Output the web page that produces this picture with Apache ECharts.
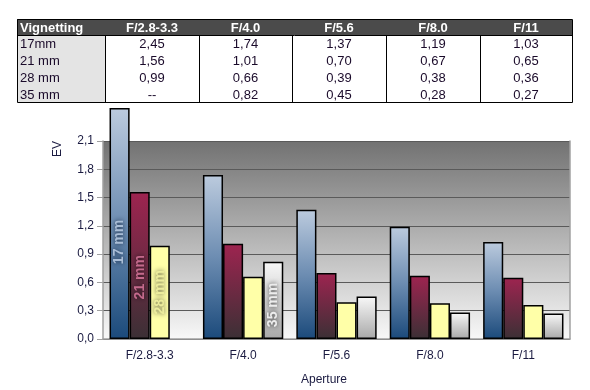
<!DOCTYPE html>
<html><head><meta charset="utf-8">
<script src="https://cdn.jsdelivr.net/npm/echarts@6/dist/echarts.min.js"></script>
<style>html,body{margin:0;padding:0;background:#fff}#c{width:590px;height:390px}</style>
</head><body><div id="c"></div>
<script>
var categories = ['F/2.8-3.3', 'F/4.0', 'F/5.6', 'F/8.0', 'F/11'];
var seriesNames = ['17mm', '21 mm', '28 mm', '35 mm'];
var labelNames = ['17 mm', '21 mm', '28 mm', '35 mm'];
var v17 = [2.45, 1.74, 1.37, 1.19, 1.03];
var v21 = [1.56, 1.01, 0.70, 0.67, 0.65];
var v28 = [0.99, 0.66, 0.39, 0.38, 0.36];
var v35 = [null, 0.82, 0.45, 0.28, 0.27];
var yTicks = [0, 0.3, 0.6, 0.9, 1.2, 1.5, 1.8, 2.1];
var tableTitle = 'Vignetting';

var FONT = '"Liberation Sans", Arial, sans-serif';
var all = [v17, v21, v28, v35];
var labelIdx = [0, 0, 0, 1];
var labelPos = [['50%', '58%'], ['50%', '58%'], ['50%', '50%'], ['50%', '56%']];
var labelColor = ['#a9bdd6', '#c46a8c', '#ecec9c', '#ececec'];
var shadowColor = ['#10203a', '#1e0c16', '#4a4a30', '#333333'];
var fills = [
  {type:'linear',x:0,y:0,x2:0,y2:1,colorStops:[{offset:0,color:'#bccbde'},{offset:0.5,color:'#6d8db2'},{offset:1,color:'#1b4a7b'}]},
  {type:'linear',x:0,y:0,x2:0,y2:1,colorStops:[{offset:0,color:'#9e2450'},{offset:1,color:'#3b3035'}]},
  '#ffffa8',
  {type:'linear',x:0,y:0,x2:0,y2:1,colorStops:[{offset:0,color:'#f8f8f8'},{offset:1,color:'#a8a8a8'}]}
];
function fmt(v){ return v == null ? '--' : v.toFixed(2).replace('.', ','); }

var series = all.map(function(vals, s){
  return {
    name: seriesNames[s], type: 'bar', clip: false, barGap: '0%', barCategoryGap: '14%',
    itemStyle: {color: fills[s], borderColor: '#000', borderWidth: 1.5},
    emphasis: {disabled: true},
    data: vals.map(function(v, i){
      if (v == null) return '-';
      if (i === labelIdx[s]) return {value: v, label: {show: true, position: labelPos[s], rotate: 90,
        align: 'center', verticalAlign: 'middle', formatter: labelNames[s],
        color: labelColor[s], fontFamily: FONT, fontWeight: 'bold', fontSize: 14,
        textShadowColor: shadowColor[s], textShadowBlur: 5}};
      return v;
    })
  };
});

// table graphics
var colX = [17, 105, 199, 292, 386, 480, 572];
var rowY = [19, 35, 52, 69, 86, 102];
var g = [];
g.push({type:'rect', shape:{x:colX[0], y:rowY[0], width:colX[6]-colX[0], height:rowY[1]-rowY[0]}, style:{fill:'#4b4b4b'}});
g.push({type:'rect', shape:{x:colX[0], y:rowY[1], width:colX[1]-colX[0], height:rowY[5]-rowY[1]}, style:{fill:'#e4e4e4'}});
g.push({type:'rect', shape:{x:colX[0]+0.5, y:rowY[0]+0.5, width:colX[6]-colX[0], height:rowY[5]-rowY[0]}, style:{fill:null, stroke:'#000', lineWidth:1}});
for (var c = 1; c < 6; c++) {
  g.push({type:'line', shape:{x1:colX[c]+0.5, y1:rowY[1], x2:colX[c]+0.5, y2:rowY[5]}, style:{stroke:'#000', lineWidth:1}});
}
g.push({type:'line', shape:{x1:colX[0], y1:rowY[1]+0.5, x2:colX[6], y2:rowY[1]+0.5}, style:{stroke:'#000', lineWidth:1}});
g.push({type:'text', x:colX[0]+3, y:(rowY[0]+rowY[1])/2+1, style:{text:tableTitle, fill:'#fff', font:'bold 13px '+FONT, textVerticalAlign:'middle'}});
categories.forEach(function(cat, i){
  g.push({type:'text', x:(colX[i+1]+colX[i+2])/2, y:(rowY[0]+rowY[1])/2+1, style:{text:cat, fill:'#fff', font:'bold 13px '+FONT, textAlign:'center', textVerticalAlign:'middle'}});
});
seriesNames.forEach(function(nm, r){
  var cy = (rowY[r+1]+rowY[r+2])/2 + 1;
  g.push({type:'text', x:colX[0]+3, y:cy, style:{text:nm, fill:'#1a0a2a', font:'13px '+FONT, textVerticalAlign:'middle'}});
  all[r].forEach(function(v, i){
    g.push({type:'text', x:(colX[i+1]+colX[i+2])/2, y:cy, style:{text:fmt(v), fill:'#1a0a2a', font:'13px '+FONT, textAlign:'center', textVerticalAlign:'middle'}});
  });
});
// axis names
g.push({type:'text', x:58, y:149, rotation:Math.PI/2, style:{text:'EV', fill:'#1a1a40', font:'12px '+FONT, textAlign:'center', textVerticalAlign:'middle'}});
g.push({type:'text', x:324, y:380, style:{text:'Aperture', fill:'#1a1a40', font:'12px '+FONT, textAlign:'center', textVerticalAlign:'middle'}});
// faint watermark
g.push({type:'rect', z:-1, shape:{x:332, y:161, width:11, height:71}, style:{fill:'rgba(110,135,170,0.25)'}});
g.push({type:'ellipse', z:-1, shape:{cx:354, cy:200, rx:22, ry:30}, style:{fill:null, stroke:'rgba(150,160,175,0.45)', lineWidth:5}});
g.push({type:'text', z:-1, x:354, y:237, style:{text:'photozone', fill:'rgba(110,135,170,0.45)', font:'bold 8px '+FONT, textAlign:'center', textVerticalAlign:'middle'}});

var chart = echarts.init(document.getElementById('c'), null, {renderer:'canvas'});
chart.setOption({
  animation: false,
  grid: {left:103, right:20, top:141, bottom:51, show:true, borderWidth:0,
    backgroundColor:{type:'linear',x:0,y:0,x2:0,y2:1,colorStops:[{offset:0,color:'#727272'},{offset:1,color:'#f8f8f8'}]}},
  xAxis: {type:'category', data:categories,
    axisLine:{lineStyle:{color:'#a0a0a0', width:1.5}}, axisTick:{show:false},
    axisLabel:{color:'#1a1a40', fontFamily:FONT, fontSize:12, margin:11}},
  yAxis: [{type:'value', min:yTicks[0], max:yTicks[yTicks.length-1], interval:yTicks[1]-yTicks[0],
    axisLine:{show:true, lineStyle:{color:'#a0a0a0', width:1.5}},
    axisTick:{show:true, length:6, lineStyle:{color:'#a0a0a0'}},
    axisLabel:{color:'#1a1a40', fontFamily:FONT, fontSize:12, margin:9,
      formatter:function(v){return v.toFixed(1).replace('.', ',');}},
    splitLine:{lineStyle:{color:'#5a5a5a', width:1}}},
   {type:'value', position:'right', min:0, max:2.1, interval:0.3,
    axisLine:{show:true, lineStyle:{color:'#a0a0a0', width:1.5}}, axisTick:{show:false},
    axisLabel:{show:false}, splitLine:{show:false}}],
  series: series,
  graphic: g
});
</script></body></html>
